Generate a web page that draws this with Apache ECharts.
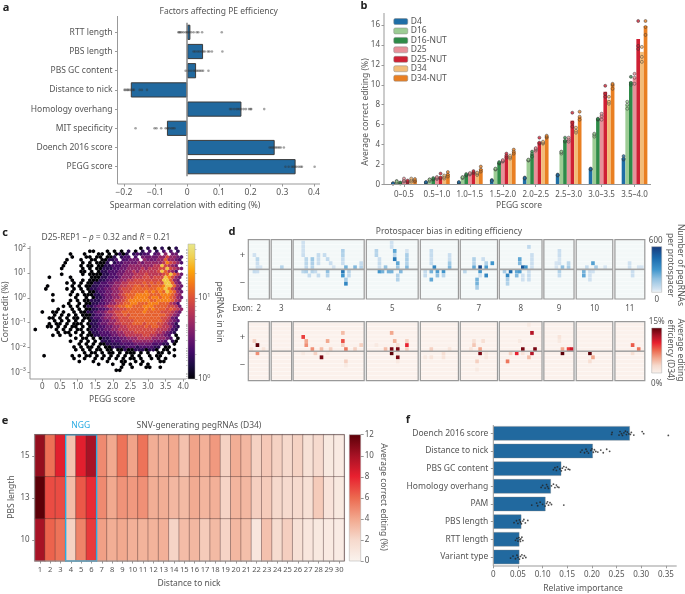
<!DOCTYPE html>
<html><head><meta charset="utf-8">
<style>html,body{margin:0;padding:0;background:#fff}#c{width:685px;height:594px}</style>
<script src="https://cdn.jsdelivr.net/npm/echarts@6/dist/echarts.min.js"></script>
</head><body><div id="c"></div>
<script>
// ---------- panel a ----------
const aCategories=['RTT length','PBS length','PBS GC content','Distance to nick','Homology overhang','MIT specificity','Doench 2016 score','PEGG score'];
const aBars=[0.01,0.05,0.028,-0.178,0.171,-0.064,0.276,0.342];
const aPoints=[
[-0.028,-0.025,-0.022,-0.018,-0.012,-0.005,0,0.005,0.012,0.02,0.03,0.035,0.047,0.109],
[0.02,0.025,0.032,0.038,0.045,0.05,0.055,0.065,0.07,0.078,0.111],
[-0.005,0.005,0.012,0.02,0.025,0.03,0.035,0.04,0.045,0.05,0.067],
[-0.198,-0.195,-0.19,-0.187,-0.183,-0.178,-0.172,-0.168,-0.15,-0.143,-0.127],
[0.135,0.14,0.148,0.155,0.16,0.165,0.17,0.178,0.185,0.195,0.2,0.202,0.243],
[-0.163,-0.103,-0.097,-0.082,-0.068,-0.062,-0.057,-0.05,-0.045,-0.04],
[0.26,0.265,0.27,0.275,0.28,0.285,0.29,0.295,0.305],
[0.31,0.32,0.33,0.335,0.34,0.345,0.352,0.358,0.362,0.402]];
const aTicks=[-0.2,-0.1,0,0.1,0.2,0.3,0.4];
// ---------- panel b ----------
const bGroups=['0–0.5','0.5–1.0','1.0–1.5','1.5–2.0','2.0–2.5','2.5–3.0','3.0–3.5','3.5–4.0'];
const bNames=['D4','D16','D16-NUT','D25','D25-NUT','D34','D34-NUT'];
const bColors=['#1f6ea6','#9ccc94','#2e8b48','#e8919a','#cf2034','#f2bc78','#e97f22'];
const bD4=[0.1,0.2,0.2,0.4,0.65,0.95,1.55,2.65];
const bD16=[0.3,0.45,0.7,1.55,2.45,3.2,5.0,8.0];
const bD16N=[0.15,0.55,0.95,2.15,3.05,4.45,6.55,10.3];
const bD25=[0.45,0.65,1.05,2.35,3.55,4.55,6.9,10.7];
const bD25N=[0.3,0.8,1.25,2.9,4.25,6.4,9.3,14.6];
const bD34=[0.45,0.75,1.1,2.75,4.2,5.5,8.5,13.3];
const bD34N=[0.4,1.05,1.55,3.3,4.8,6.75,10.0,15.9];
const bReps=[
[[.1,.1,.12],[.2,.2,.25],[.15,.2,.25],[.4,.45,.35],[.6,.7,.65],[.9,1,.95],[1.5,1.6,1.55],[2.5,2.85,2.6]],
[[.2,.35,.3],[.35,.5,.5],[.65,.7,.75],[1.5,1.55,1.6],[2.4,2.45,2.5],[3.1,3.25,3.3],[4.8,5,5.1],[7.6,8,8.3]],
[[.1,.15,.2],[.5,.55,.65],[.9,.95,1.05],[2.1,2.15,2.25],[2.8,3.1,3.3],[4.3,4.4,4.7],[6.5,6.55,6.6],[10,10.2,10.8]],
[[.3,.4,.6],[.55,.65,.75],[1,1.05,1.15],[2.3,2.35,2.45],[3.4,3.55,3.65],[4.3,4.5,4.7],[6.5,6.85,7.1],[10.1,10.7,11.1]],
[[.2,.3,.4],[.6,.7,1.1],[1.15,1.25,1.35],[2.7,2.9,3.1],[4.1,4.2,4.7],[5.8,6.2,7.2],[8.8,9.1,9.9],[13.6,13.9,16.4]],
[[.3,.45,.6],[.6,.75,.9],[.95,1.1,1.2],[2.6,2.75,2.9],[4.1,4.2,4.3],[5.2,5.4,5.7],[8.1,8.3,8.8],[12.3,12.8,13.8]],
[[.3,.4,.55],[.8,1,1.25],[1.3,1.5,1.8],[3.1,3.3,3.5],[4.7,4.8,4.9],[6.5,6.8,7.3],[9.6,10,10.1],[15,15.8,16.4]]];
// ---------- panel c: hexbin counts as colour levels 0..9 (log scale), one string per hex row ----------
const hexRows=[
"..............................0.1.0.1.0.1.",
"...............00...0.0.0.1.0.1.2.1.2.2.1.",
"..........0...0...00.0.0101.12122.23.4.33.",
"..........0...00.00.001.122.2.333334464432",
".........0...0..00.00112.22333.43334474432",
"........0....0.0.0001.12233334344444586542",
"........0....0.00.00112223344444445596543",
".......0.....0.0.0011122334444545556696543",
".............00.0.01122233445455555697542",
".......0.....0.0000112233444555655556797532",
"....0.....0.....0001122234445556656669864 3",
"..........0..0.0001122334455666666669974 3",
".........0.0.0.0011223344556666767676997 43",
"...0......0.0.0011222344556677676777899743",
"...0.....0.0.0.0112233445666777777788986 43",
"..........0..0.0012233445667777878787987 43",
".....0....0.0.000112334456777888877788875 43",
"...........0..0.011233445677888878878876 43",
".....0....0.0.001112334556788888877888875 43",
".........0..0.001122344567788777888 7775 42",
"........0.0.0.0112334556778877788877776653",
"......0...0.0.0011223455667777787877767654",
"..0..00.0..0.00112334556677777787777666543",
".....0.0.0.0.0001223445667677777777776543",
"....00.0.0.00.001223445566677777777766532",
".....0.0.0.0.0.01123344566667777777765432",
"....0.00.0.000.01123344556667776777665431",
"...00.0.0.00.0.01122334455666667677655421",
"0.....0.0.0.00.01122334455566666666555421",
"......0.00.0.0.0112223344555666666554321.",
".....0.0..0..0.001122233445555566554432.0",
"...........0.00.0.011222334445555444432.0",
"..........0..0.0.0.1112223334444443332.10",
"............0.0.0.00111122223333322211.0.",
"...........0.0.00.0.0011112221222211.00..",
"...........0.0.0.00.00.001001110110.00.0.",
"..............0.00.0.00.0.000.0.0..00.0..",
"..0.......0.0.00.0.0.0.0.0.0.0..0.00...0.",
"...........0..0..0.0.0.0.0.00.0..0.0.0...",
"............0...0...0...00..0.0....00....",
"..................0...0..0.0..0.0........",
"........................0..0...00..0.....",
".......................00................"].map(s=>s.replace(/ /g,''));
const hexLevelColor=[0,.14,.23,.31,.4,.5,.57,.64,.72,.88];
const cXTicks=[0,0.5,1,1.5,2,2.5,3,3.5,4];
const cYExps=[-3,-2,-1,0,1,2];
// ---------- panel d: [column, strand row, value] ----------
const exonNames=['2','3','4','5','6','7','8','9','10','11'];
const exonSpans=[[0,6.9],[7.5,14.2],[14.7,38],[38.7,55.7],[56.4,68.9],[69.5,81.7],[82.3,96.3],[96.9,106.8],[107.5,119.5],[120.2,130]];
const dBlue=[[2,4,50],[3,3,90],[3,2,60],[3,1,50],[4,1,40],[2,-1,70],[3,-1,60],[11,1,100],
[18,7,50],[18,6,50],[18,5,50],[18,4,60],[19,3,90],[21,3,150],[19,2,90],[21,2,120],[19,1,80],[21,1,100],[23,4,70],[23,3,60],[23,2,60],[25,4,70],[26,3,80],[27,2,60],[28,1,40],[31,5,120],[31,4,110],[31,3,70],[31,2,60],[32,1,220],[35,1,200],[37,2,70],[37,1,100],
[18,-1,90],[19,-1,120],[21,-1,100],[22,-1,70],[26,-1,180],[31,-1,400],[33,-1,100],[20,-2,70],[23,-2,70],[26,-2,100],[31,-2,300],[33,-2,80],[32,-3,130],[32,-4,350],
[42,5,100],[42,4,100],[43,3,60],[43,2,70],[47,7,50],[47,6,50],[48,5,250],[48,4,90],[48,3,400],[49,2,250],[49,1,150],[45,1,170],[43,1,50],[52,5,40],[52,4,130],[52,3,130],[52,2,110],[52,1,200],
[43,-1,300],[44,-1,220],[46,-1,220],[47,-1,220],[50,-1,200],[49,-2,110],[49,-3,110],
[60,5,70],[60,4,70],[60,3,60],[60,2,70],[61,1,350],[58,-1,70],[60,-1,220],[62,-1,280],[64,-1,300],[60,-3,250],[58,-2,70],[62,-2,180],[64,-2,100],[66,4,60],[66,3,60],[66,2,150],[66,1,200],
[74,3,110],[74,2,100],[74,1,250],[76,1,550],[77,3,60],[78,2,110],[78,1,280],[80,2,300],[71,-1,90],[76,-1,300],[76,-2,50],[78,-2,350],[75,-3,220],[75,-4,220],[75,-5,130],
[92,6,80],[93,4,60],[93,3,60],[93,2,60],[93,1,50],[89,3,250],[89,2,200],[90,1,500],[91,1,300],[84,-1,130],[86,-1,450],[88,-1,250],[89,-1,280],[92,-1,60],[85,-2,350],[88,-2,200],[90,-2,50],[92,-2,70],[85,-3,130],[85,-4,110],[90,-3,50],[92,-3,60],
[102,5,60],[102,4,60],[102,3,40],[102,2,50],[101,2,40],[105,2,90],[103,1,180],[105,1,130],[101,1,40],[102,-1,110],[102,-2,70],
[113,2,270],[111,1,70],[114,1,130],[117,1,40],[110,-1,220],[112,-1,60],[113,-1,50],[110,-2,250],[112,-2,50],[112,-3,50],
[125,2,50],[125,1,50],[128,1,40],[129,1,40],[126,-1,60],[126,-2,60]];
const dRed=[[3,2,15],[2,3,3],[1,1,1.5],[5,1,1.5],[3,-1,6],
[18,4,9],[19,3,5],[19,2,6],[21,1,6],[24,1,4],[27,1,3],[26,3,5],[31,5,4],[31,3,8.5],[31,2,3],[32,1,7],[35,1,3],[37,2,3],[22,-1,3],[18,-1,1],[24,-2,14],[26,-1,1],[32,-3,3],[32,-4,1],
[47,5,5],[48,3,4.5],[49,2,2],[52,3,3],[52,2,10],[52,1,3],[42,2,1],[45,1,4],[47,1,14],[49,1,14],[47,-1,15],[49,-2,14],[49,-1,1],[49,-3,1],
[60,1,3],[58,-2,1],[60,-2,1.5],[64,-1,2],[64,-2,1.5],[66,1,1.5],
[74,3,2],[74,2,3.5],[77,3,2],[73,1,1.5],[76,1,5],[76,-1,14],[78,-1,1],[78,-2,1],[75,-3,3],[75,-5,1],
[92,7,1],[93,5,12],[89,3,1],[90,1,14],[94,1,14],[86,-1,3],[88,-1,10],[90,-1,1.5],[93,-1,12],[92,-2,4],[85,-3,7],
[102,4,1.5],[102,3,1],[103,1,5],[105,1,9],[106,1,11],[103,-1,15],
[112,-1,15],[113,-2,5],[112,-3,2],[126,2,8],[128,1,7],[126,-1,2]];
// ---------- panel e ----------
const eDistances=['1','2','3','4','5','6','7','8','9','10','11','12','13','14','15','16','17','18','19','20','21','22','23','24','25','26','27','28','29','30'];
const ePbs=['15','13','10'];
const eRow15=[10.5,5.8,8.2,3,8.2,10,5,4,5.7,4.2,5.7,3.8,3.7,4,3,4.2,3.7,4.5,2.3,3.8,3.4,2.3,2.7,2.3,2,2.3,1.4,1.9,0.8,0.7];
const eRow13=[12,6.8,6.8,3.2,6.5,7.7,5,4,4.7,4.5,4.8,3.8,3.8,3.4,3.3,3.9,3.5,3.7,2.2,3.5,3.4,2.4,2.6,2,1.9,1.9,1.5,2.6,1.2,0.8];
const eRow10=[10,6.2,5.7,2.3,5.2,7.3,4.3,3.8,4,3.7,3.6,3.6,3.7,2.2,3.2,3.4,2.6,3.3,2.2,3.4,3.1,1,3,1.8,2.4,1.4,1,0.8,0.7,0.6];
const nggRange=[3,5];
// ---------- panel f ----------
const fCategories=['Doench 2016 score','Distance to nick','PBS GC content','Homology overhang','PAM','PBS length','RTT length','Variant type'];
const fBars=[0.277,0.202,0.138,0.117,0.106,0.057,0.053,0.053];
const fPoints=[
[.24,.241,.255,.257,.26,.262,.265,.268,.27,.272,.275,.278,.28,.285,.302,.305,.355],
[.177,.18,.185,.188,.19,.193,.198,.2,.203,.205,.208,.212,.218,.223,.23,.236],
[.122,.125,.128,.13,.135,.138,.14,.143,.146,.148,.152,.155],
[.097,.1,.105,.108,.11,.112,.118,.122,.125,.128,.13,.133],
[.078,.088,.09,.095,.1,.105,.108,.11,.112,.115,.118,.143],
[.042,.047,.05,.053,.055,.057,.06,.062,.065,.07],
[.045,.048,.05,.052,.054,.055,.056,.058,.06],
[.035,.04,.045,.048,.05,.053,.055,.058,.06,.063,.066]];
const fJitter=[.06,-.05,.1,-.1,.02,.12,-.03,-.12,.07,-.07,.03];
const fTicks=[0,.05,.1,.15,.2,.25,.3,.35];

// ---------- style ----------
const FONT='"Noto Sans"', TXT='#555', SPINE='#999';
const FS=8.5, FSS=8;
const inferno=[[0,'#000004'],[.1,'#1b0c41'],[.2,'#420a68'],[.3,'#6a176e'],[.4,'#932667'],[.5,'#bb3754'],[.6,'#dd513a'],[.7,'#f3771a'],[.8,'#fca50a'],[.9,'#f0d050'],[1,'#e8e88c']];
const reds=[[0,'#faf3ee'],[.17,'#f6d9cc'],[.33,'#f2a98f'],[.5,'#ec6a50'],[.67,'#e8202f'],[.83,'#a81225'],[1,'#5c0008']];
const blues=[[0,'#f6fafb'],[.07,'#d3e3f1'],[.3,'#8fc0e1'],[.5,'#3f95cc'],[.75,'#1a6aad'],[1,'#163a7c']];
function ramp(st,t){t=Math.max(0,Math.min(1,t));for(let i=1;i<st.length;i++){if(t<=st[i][0]){const a=st[i-1],b=st[i],f=(t-a[0])/(b[0]-a[0]);
 const p=s=>[1,3,5].map(k=>parseInt(s.substr(k,2),16));const A=p(a[1]),B=p(b[1]);return 'rgb('+A.map((v,j)=>Math.round(v+(B[j]-v)*f)).join(',')+')';}}return st[st.length-1][1];}

const option={animation:false,backgroundColor:'#fff',grid:[],xAxis:[],yAxis:[],series:[],graphic:[],visualMap:[]};
const NGRID=11, extra={xAxis:[],yAxis:[]};
const noAxis={axisLine:{show:false,onZero:false},splitLine:{show:false},axisTick:{show:false},axisLabel:{show:false}};
function addGrid(r,xa,ya){const i=option.grid.length;option.grid.push({left:r[0],top:r[1],width:r[2]-r[0],height:r[3]-r[1],containLabel:false});
 option.xAxis.push(Object.assign({gridIndex:i},noAxis,xa));
 option.yAxis.push(Object.assign({gridIndex:i},noAxis,ya));
 return i;}
function addAxis(kind,grid,ax){extra[kind].push(Object.assign({gridIndex:grid},noAxis,ax));return NGRID+extra[kind].length-1;}
const lab=(o)=>Object.assign({show:true,color:TXT,fontFamily:FONT,fontSize:FS,margin:4,hideOverlap:false},o||{});
const tick=(o)=>Object.assign({show:true,length:2.5,lineStyle:{color:SPINE,width:1}},o||{});
function text(t,x,y,o){o=o||{};option.graphic.push({type:'text',x:x,y:y,rotation:o.rot||0,z:50,silent:true,style:{text:t,fill:o.fill||TXT,font:(o.weight||'normal')+' '+(o.size||FS)+'px '+FONT,textAlign:o.align||'center',textVerticalAlign:'middle',rich:o.rich,lineHeight:o.lh}});}
function line(x1,y1,x2,y2,c,w){option.graphic.push({type:'line',z:40,silent:true,shape:{x1:x1,y1:y1,x2:x2,y2:y2},style:{stroke:c||SPINE,lineWidth:w||1}});}
const minus=v=>String(v).replace('-','−');

// ---------- a ----------
{const g=addGrid([117.5,22.7,320,176.3],
 {type:'value',min:-0.22,max:0.419,offset:7.7,axisTick:tick({customValues:aTicks}),axisLabel:lab({customValues:aTicks,margin:4,formatter:v=>minus(v)})},
 {type:'category',inverse:true,data:aCategories,axisTick:tick({alignWithLabel:true}),axisLabel:lab({margin:5})});
 option.series.push({type:'bar',xAxisIndex:g,yAxisIndex:g,data:aBars,barWidth:15.2,itemStyle:{color:'#21699f',borderColor:'#3a3a3a',borderWidth:1},
  markLine:{silent:true,symbol:'none',label:{show:false},lineStyle:{color:'#888',width:1.5,type:'solid'},data:[{xAxis:0}]}});
 option.series.push({type:'scatter',xAxisIndex:g,yAxisIndex:g,symbolSize:2.6,z:5,itemStyle:{color:'rgba(50,50,50,.55)'},
  data:aPoints.flatMap((p,i)=>p.map(v=>[v,i]))});
 line(117.5,16,117.5,184);line(117.5,184,320,184);
 text('Factors affecting PE efficiency',218.7,11.5);
 text('Spearman correlation with editing (%)',185,205.5);
}
// ---------- b ----------
{const bTicks=[0,2,4,6,8,10,12,14,16];
 const g=addGrid([387.5,13,651,184.5],
 {type:'category',data:bGroups,axisTick:tick({alignWithLabel:true}),axisLabel:lab({margin:6,fontSize:FSS,interval:0})},
 {type:'value',min:0,max:17.2,offset:3.5,axisTick:tick({customValues:bTicks}),axisLabel:lab({customValues:bTicks,margin:4,fontSize:FSS})});
 const x2=addAxis('xAxis',g,{type:'value',min:-0.5,max:7.5,show:false});
 [bD4,bD16,bD16N,bD25,bD25N,bD34,bD34N].forEach((d,s)=>{
  option.series.push({type:'bar',name:bNames[s],xAxisIndex:g,yAxisIndex:g,data:d,barWidth:3.67,barGap:'0%',itemStyle:{color:bColors[s]}});
 });
 bReps.forEach((rows,s)=>{option.series.push({type:'scatter',xAxisIndex:x2,yAxisIndex:g,symbolSize:3,z:5,itemStyle:{color:bColors[s],borderColor:'#333',borderWidth:.6},
   data:rows.flatMap((r,i)=>r.map(v=>[i+(s-3)*0.111,v]))});});
 option.legend={show:true,data:bNames,orient:'vertical',left:393.5,top:17,itemWidth:14,itemHeight:6,itemGap:.45,padding:0,
   textStyle:{color:TXT,fontFamily:FONT,fontSize:FS,lineHeight:9,height:9,padding:[0,0,0,-2]},itemStyle:{borderColor:'#888',borderWidth:.5}};
 line(384,13,384,184.5);line(384,184.5,651,184.5);
 text('Average correct editing (%)',366,112,{rot:Math.PI/2});
 text('PEGG score',519,205.5);
}
// ---------- c ----------
{const minors=[];for(let e=-4;e<=2;e++)for(let k=2;k<=9;k++){const v=e+Math.log10(k);if(v>-3.27&&v<2.09)minors.push(v);}
 const expLabel=v=>'{b|10}{s|'+minus(v)+'}';
 const rich={b:{fontSize:FSS,color:TXT,fontFamily:FONT},s:{fontSize:5.5,color:TXT,fontFamily:FONT,padding:[0,0,5,0]}};
 const g=addGrid([30,246,186,379],
 {type:'value',min:-0.35,max:4.08,axisTick:tick({customValues:cXTicks}),axisLabel:lab({customValues:cXTicks,fontSize:FSS,margin:4,formatter:v=>v===0?'0':v.toFixed(1)})},
 {type:'value',min:-3.27,max:2.09,axisTick:tick({customValues:cYExps}),axisLabel:lab({customValues:cYExps,margin:4,formatter:expLabel,rich:rich})});
 addAxis('yAxis',g,{type:'value',min:-3.27,max:2.09,axisTick:tick({customValues:minors,length:1.5,lineStyle:{color:SPINE,width:.6}})});
 const dx=0.1,dy=0.117,hexData=[];
 hexRows.forEach((row,r)=>{[...row].slice(0,42).forEach((ch,c)=>{if(ch>='0'&&ch<='9')hexData.push([-0.2+(c+(r%2?0.5:0))*dx,2-r*dy,+ch]);});});
 option.series.push({type:'custom',xAxisIndex:g,yAxisIndex:g,clip:false,data:hexData,encode:{x:0,y:1},renderItem:(p,api)=>{
   const c=api.coord([api.value(0),api.value(1)]),w=api.size([dx,0])[0]/2*1.01,h=w*1.13;
   return {type:'polygon',shape:{points:[[c[0],c[1]-h],[c[0]+w,c[1]-h/2],[c[0]+w,c[1]+h/2],[c[0],c[1]+h],[c[0]-w,c[1]+h/2],[c[0]-w,c[1]-h/2]]},style:{fill:ramp(inferno,hexLevelColor[api.value(2)])}};}});
 line(30,246,30,379);line(30,379,186,379);
 text('D25-REP1 – {i|ρ} = 0.32 and {i|R} = 0.21',106,238,{rich:{i:{fontStyle:'italic',fontFamily:FONT,fontSize:FS,fill:TXT,color:TXT}}});
 text('PEGG score',112,399.5);
 text('Correct edit (%)',6,312,{rot:Math.PI/2});
}
function colorbar(r,stops,min,max,ya){
 const g=addGrid(r,{type:'value',min:0,max:1},Object.assign({type:'value',min:min,max:max,position:'right'},ya));
 option.series.push({type:'custom',xAxisIndex:g,yAxisIndex:g,data:[[0,min]],encode:{x:0,y:1},renderItem:(p,api)=>{
  const a=api.coord([0,max]),b=api.coord([1,min]);
  return {type:'rect',shape:{x:a[0],y:a[1],width:b[0]-a[0],height:b[1]-a[1]},style:{fill:new echarts.graphic.LinearGradient(0,1,0,0,stops.map(s=>({offset:s[0],color:s[1]}))),stroke:'#aaa',lineWidth:.5}};}});
 return g;
}
// colourbar c
{const minors=[];for(let k=2;k<=9;k++)minors.push(Math.log10(k));
 [20,30,40].forEach(k=>minors.push(Math.log10(k)));
 const g=colorbar([188,244,195,379],inferno,0,1.667,{axisTick:tick({customValues:[0,1],length:2.5}),
  axisLabel:lab({customValues:[0,1],margin:3,formatter:v=>'{b|10}{s|'+v+'}',rich:{b:{fontSize:FSS,color:TXT,fontFamily:FONT},s:{fontSize:5.5,color:TXT,fontFamily:FONT,padding:[0,0,5,0]}}})});
 addAxis('yAxis',g,{type:'value',min:0,max:1.667,position:'right',axisTick:tick({customValues:minors,length:1.5,lineStyle:{color:SPINE,width:.6}})});
 text('pegRNAs in bin',219,312,{rot:-Math.PI/2});
}
// ---------- d ----------
function strand(rect,cells,stops,vmax,bg,showExon){
 const centers=exonSpans.map(s=>(s[0]+s[1])/2);
 const exonLabel=v=>{let b=0;centers.forEach((c,i)=>{if(Math.abs(c-v)<Math.abs(centers[b]-v))b=i;});return exonNames[b];};
 const xa=showExon?{axisLabel:lab({customValues:centers,fontSize:FSS,margin:6,formatter:exonLabel})}:{};
 const g=addGrid(rect,Object.assign({type:'value',min:0,max:130.16},xa),
  {type:'value',min:-7.25,max:7.25,axisLabel:lab({customValues:[-3.5,3.5],margin:3,fontSize:9.5,formatter:v=>v>0?'+':'−'})});
 option.series.push({type:'custom',xAxisIndex:g,yAxisIndex:g,data:exonSpans,encode:{x:[0,1]},renderItem:(p,api)=>{
  const a=api.coord([api.value(0),7.25]),b=api.coord([api.value(1),-7.25]),kids=[{type:'rect',shape:{x:a[0],y:a[1],width:b[0]-a[0],height:b[1]-a[1]},style:{fill:bg}}];
  for(let n=-7;n<=7;n++){const y=api.coord([0,n])[1];kids.push({type:'rect',shape:{x:a[0],y:y-.25,width:b[0]-a[0],height:.5},style:{fill:'rgba(255,255,255,.85)'}});}
  return {type:'group',children:kids};}});
 option.series.push({type:'custom',xAxisIndex:g,yAxisIndex:g,data:cells,encode:{x:0,y:1},renderItem:(p,api)=>{
  const n=api.value(1),c=api.coord([api.value(0),n>0?n-.5:n+.5]),s=api.size([1,1]);
  return {type:'rect',shape:{x:c[0]-1.8,y:c[1]-s[1]/2+.1,width:3.6,height:s[1]-.2},style:{fill:ramp(stops,api.value(2)/vmax)}};}});
 option.series.push({type:'custom',xAxisIndex:g,yAxisIndex:g,data:exonSpans,encode:{x:[0,1]},renderItem:(p,api)=>{
  const a=api.coord([api.value(0),7.25]),b=api.coord([api.value(1),-7.25]),m=api.coord([0,0])[1];
  return {type:'group',children:[
   {type:'rect',shape:{x:a[0],y:m-.8,width:b[0]-a[0],height:1.6},style:{fill:'#a5a5a5'}},
   {type:'rect',shape:{x:a[0],y:a[1],width:b[0]-a[0],height:b[1]-a[1]},style:{fill:'none',stroke:'#999',lineWidth:1.2}}]};}});
 return g;
}
strand([248.3,239.7,645.3,299],dBlue,blues,600,'#f3f8f8',true);
strand([248.3,321.7,645.3,380.7],dRed,reds,15,'#fbf1ec',false);
text('Protospacer bias in editing efficiency',449,232);
text('Exon:',232.5,309,{align:'left',size:FSS});
colorbar([651.7,246.7,661.7,292.3],blues,0,600,{});
text('600',655.7,241,{size:FSS});text('0',656.7,299.5,{size:FSS});
text('Number of pegRNAs',680,265,{rot:-Math.PI/2});
text('per protospacer',670,265,{rot:-Math.PI/2});
colorbar([651.7,328,661.7,373],reds,0,15,{});
text('15%',656.7,322,{size:FSS});text('0%',656.7,384,{size:FSS});
text('Average editing',680,350,{rot:-Math.PI/2});
text('efficiency (D34)',670,350,{rot:-Math.PI/2});
// ---------- e ----------
{const g=addGrid([34.7,434.7,344.3,561],
 {type:'category',data:eDistances,axisTick:tick({alignWithLabel:true}),axisLabel:lab({interval:0,fontSize:7.6,margin:5})},
 {type:'category',inverse:true,data:ePbs,axisTick:tick({alignWithLabel:true}),axisLabel:lab({margin:5,fontSize:FSS})});
 const hData=[];[eRow15,eRow13,eRow10].forEach((r,y)=>r.forEach((v,x)=>hData.push([x,y,v])));
 const sIdx=option.series.length;
 option.series.push({type:'heatmap',xAxisIndex:g,yAxisIndex:g,data:hData,itemStyle:{borderColor:'rgba(70,45,45,.55)',borderWidth:.7}});
 option.visualMap.push({show:false,seriesIndex:sIdx,dimension:2,min:0,max:12,inRange:{color:reds.map(s=>s[1])}});
 option.series.push({type:'custom',xAxisIndex:g,yAxisIndex:g,data:[[nggRange[0],nggRange[1]]],z:6,clip:false,encode:{x:[0,1]},renderItem:(p,api)=>{
  const a=api.coord([api.value(0),0]),b=api.coord([api.value(1),2]),s=api.size([1,1]);
  return {type:'rect',shape:{x:a[0]-s[0]/2,y:a[1]-s[1]/2,width:b[0]-a[0]+s[0],height:b[1]-a[1]+s[1]},style:{fill:'none',stroke:'#29abe2',lineWidth:1.4}};}});
 line(34.7,434.7,34.7,561);line(34.7,561,344.3,561);line(34.7,434.7,344.3,434.7,'rgba(110,90,90,.7)');line(344.3,434.7,344.3,561,'rgba(110,90,90,.7)');
 text('NGG',80.7,426,{fill:'#29abe2'});
 text('SNV-generating pegRNAs (D34)',199,426);
 text('PBS length',12,497,{rot:Math.PI/2});
 text('Distance to nick',189,584);
 const et=[0,2,4,6,8,10,12];
 colorbar([349.3,434.7,360.7,561],reds,0,12,{axisTick:tick({customValues:et,length:3}),axisLabel:lab({customValues:et,margin:4,fontSize:FSS})});
 text('Average correct editing (%)',383,497,{rot:-Math.PI/2});
}
// ---------- f ----------
{const g=addGrid([493.3,424.5,676.7,565.8],
 {type:'value',min:0,max:0.372,axisTick:tick({customValues:fTicks}),axisLabel:lab({customValues:fTicks,margin:5,fontSize:FSS,formatter:v=>v===0?'0':v.toFixed(2)})},
 {type:'category',inverse:true,data:fCategories,axisTick:tick({alignWithLabel:true}),axisLabel:lab({margin:5})});
 const y2=addAxis('yAxis',g,{type:'value',inverse:true,min:0,max:8});
 option.series.push({type:'bar',xAxisIndex:g,yAxisIndex:g,data:fBars,barWidth:14.5,itemStyle:{color:'#21699f',borderColor:'rgba(130,130,130,.6)',borderWidth:.6}});
 option.series.push({type:'scatter',xAxisIndex:g,yAxisIndex:y2,symbolSize:1.8,z:5,itemStyle:{color:'#222'},
  data:fPoints.flatMap((p,i)=>p.map((v,k)=>[v,i+.5+fJitter[k%fJitter.length]]))});
 line(493.3,425,493.3,566);line(493.3,566,676.7,566);
 text('Relative importance',583,589);
}
// panel letters
[['a',6,8],['b',364,6],['c',5,232.5],['d',232,232],['e',5,421],['f',408,420]].forEach(l=>text(l[0],l[1],l[2],{weight:'bold',size:11,fill:'#222'}));

option.xAxis=option.xAxis.concat(extra.xAxis);option.yAxis=option.yAxis.concat(extra.yAxis);
const chart=echarts.init(document.getElementById('c'),null,{renderer:'canvas',width:685,height:594});
chart.setOption(option);
</script></body></html>
